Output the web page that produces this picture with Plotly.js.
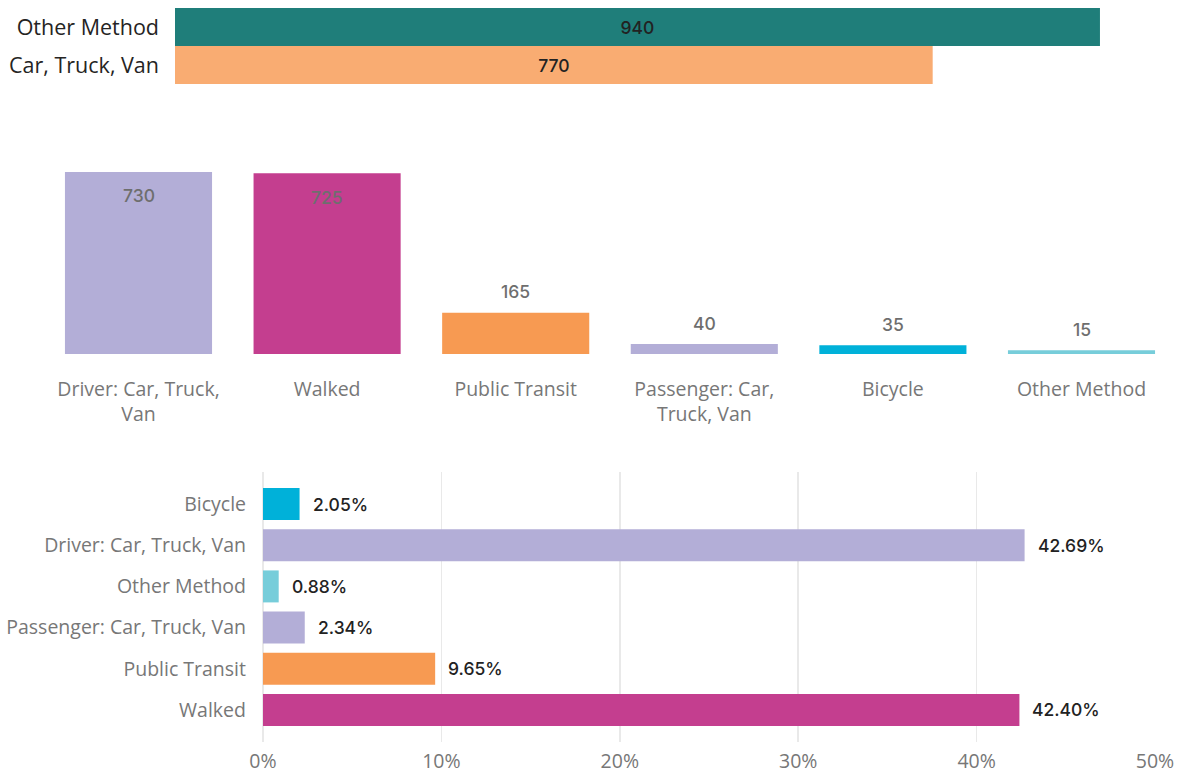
<!DOCTYPE html>
<html>
<head>
<meta charset="utf-8">
<script src="https://cdn.plot.ly/plotly-3.0.1.min.js"></script>
<style>html,body{margin:0;padding:0;background:#fff;}#chart{width:1180px;height:773px;}</style>
</head>
<body>
<div id="chart"></div>
<script>
// ---- Data ----
const topCategories = ["Other Method", "Car, Truck, Van"];
const topValues = [940, 770];

const midCategories = ["Driver: Car, Truck, Van", "Walked", "Public Transit", "Passenger: Car, Truck, Van", "Bicycle", "Other Method"];
const midTickText = ["Driver: Car, Truck,<br>Van", "Walked", "Public Transit", "Passenger: Car,<br>Truck, Van", "Bicycle", "Other Method"];
const midValues = [730, 725, 165, 40, 35, 15];

const pctCategories = ["Bicycle", "Driver: Car, Truck, Van", "Other Method", "Passenger: Car, Truck, Van", "Public Transit", "Walked"];
const pctValues = [2.05, 42.69, 0.88, 2.34, 9.65, 42.40];
const pctTickVals = [0, 10, 20, 30, 40, 50];
const pctTickText = ["0%", "10%", "20%", "30%", "40%", "50%"];

// ---- Styles ----
const topColors = ["#1F7E7A", "#F9AC72"];
const midColors = ["#B3AED7", "#C43E8F", "#F79A52", "#B3AED7", "#00B1D9", "#77CDDA"];
const pctColors = ["#00B1D9", "#B3AED7", "#77CDDA", "#B3AED7", "#F79A52", "#C43E8F"];

const W = 1180, H = 773;
const px = v => v / W;
const py = v => 1 - v / H;

const axisFont = {family: "'Segoe UI', 'Open Sans', sans-serif", size: 19.5, color: "#777777"};
const topAxisFont = {family: "'Segoe UI', 'Open Sans', sans-serif", size: 21.5, color: "#252423"};
const labelFontDark = {family: "Inter, Roboto, sans-serif", size: 17.5, color: "#222222", weight: 500};
const labelFontGray = {family: "Inter, Roboto, sans-serif", size: 17.5, color: "#6E6E6E", weight: 500};

const traces = [
  {
    type: "bar", orientation: "h",
    x: topValues, y: topCategories,
    xaxis: "x", yaxis: "y",
    width: 1.0,
    marker: {color: topColors},
    text: topValues.map(v => String(v)),
    textposition: "inside", insidetextanchor: "middle",
    insidetextfont: labelFontDark, constraintext: "none",
    hoverinfo: "x+y", showlegend: false
  },
  {
    type: "bar",
    x: midCategories, y: midValues,
    xaxis: "x2", yaxis: "y2",
    width: 0.78,
    marker: {color: midColors},
    hoverinfo: "x+y", showlegend: false
  },
  {
    type: "bar", orientation: "h",
    x: pctValues, y: pctCategories,
    xaxis: "x3", yaxis: "y3",
    width: 0.777,
    marker: {color: pctColors},
    hoverinfo: "x+y", showlegend: false
  }
];

const midMax = Math.max(...midValues);
const annotations = [];
midCategories.forEach((c, i) => {
  const inside = midValues[i] > 0.8 * midMax;
  annotations.push({
    xref: "x2", yref: "y2", x: c, y: midValues[i],
    text: String(midValues[i]), showarrow: false,
    yanchor: "middle", xanchor: "center",
    yshift: inside ? -24 : 21,
    font: labelFontGray
  });
});
pctCategories.forEach((c, i) => {
  annotations.push({
    xref: "x3", yref: "y3", x: pctValues[i], y: c,
    text: pctValues[i].toFixed(2) + "%", showarrow: false,
    xanchor: "left", yanchor: "middle", xshift: 11,
    font: labelFontDark
  });
});

const layout = {
  width: W, height: H,
  margin: {l: 0, r: 0, t: 0, b: 0},
  paper_bgcolor: "#ffffff", plot_bgcolor: "#ffffff",
  showlegend: false,
  xaxis: {domain: [px(175), px(1159)], range: [0, 1000], visible: false, fixedrange: true},
  yaxis: {domain: [py(84), py(8)], type: "category", categoryorder: "array", categoryarray: topCategories,
          range: [1.5, -0.5], showgrid: false, zeroline: false, showline: false, ticks: "",
          tickfont: topAxisFont, ticklabelstandoff: 15, anchor: "x"},
  xaxis2: {domain: [px(44.2), px(1175.8)], type: "category", categoryorder: "array", categoryarray: midCategories,
           range: [-0.5, 5.5], tickmode: "array", tickvals: midCategories, ticktext: midTickText,
           showgrid: false, zeroline: false, showline: false, ticks: "", tickfont: axisFont,
           ticklabelstandoff: 21, anchor: "y2"},
  yaxis2: {domain: [py(354), py(159.5)], range: [0, 780], visible: false, anchor: "x2"},
  xaxis3: {domain: [px(263), px(1155)], range: [0, 50], tickmode: "array", tickvals: pctTickVals, ticktext: pctTickText,
           showgrid: true, gridcolor: "#E9E9E9", gridwidth: 1.5, zeroline: true, zerolinecolor: "#E9E9E9", zerolinewidth: 1.5,
           showline: false, ticks: "", tickfont: axisFont, ticklabelstandoff: 5, anchor: "y3"},
  yaxis3: {domain: [py(742), py(472)], type: "category", categoryorder: "array", categoryarray: pctCategories,
           range: [5.78, -0.78], showgrid: false, zeroline: false, showline: false, ticks: "",
           tickfont: axisFont, ticklabelstandoff: 16, anchor: "x3"},
  annotations: annotations
};

Plotly.newPlot("chart", traces, layout, {displayModeBar: false, staticPlot: true});
</script>
</body>
</html>
